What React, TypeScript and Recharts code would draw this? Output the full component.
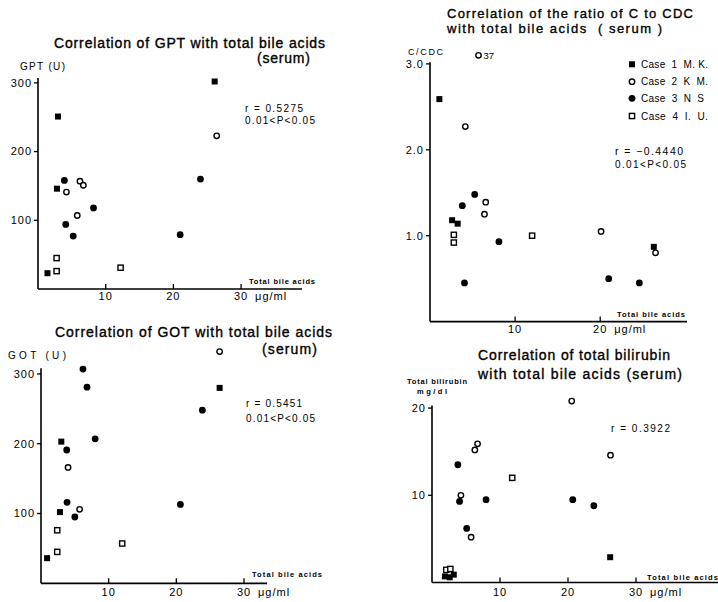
import { ScatterChart, Scatter, XAxis, YAxis, ReferenceLine } from "recharts";

// total bile acids (µg/ml) on x, enzyme / ratio / bilirubin on y
const gptCase1 = [{ x: 1.4, y: 23 }, { x: 2.8, y: 146 }, { x: 2.95, y: 251 }, { x: 26.1, y: 302 }];
const gptCase2 = [{ x: 4.2, y: 141 }, { x: 5.8, y: 107 }, { x: 6.2, y: 157 }, { x: 6.7, y: 151 }, { x: 26.4, y: 223 }];
const gptCase3 = [{ x: 3.9, y: 158 }, { x: 4.1, y: 94 }, { x: 5.2, y: 77 }, { x: 8.2, y: 118 }, { x: 21.0, y: 79 }, { x: 24.0, y: 160 }];
const gptCase4 = [{ x: 2.75, y: 45 }, { x: 2.75, y: 26 }, { x: 12.2, y: 31 }];

const cdcCase1 = [{ x: 1.1, y: 2.59 }, { x: 2.6, y: 1.18 }, { x: 3.25, y: 1.14 }, { x: 26.3, y: 0.87 }];
const cdcCase2 = [{ x: 4.15, y: 2.27 }, { x: 6.4, y: 1.25 }, { x: 6.55, y: 1.39 }, { x: 20.1, y: 1.05 }, { x: 26.5, y: 0.8 }];
const cdcCase2Off = [{ x: 5.7, y: 3.7 }]; // off scale, drawn at the top with its value
const cdcCase3 = [{ x: 3.8, y: 1.35 }, { x: 4.05, y: 0.45 }, { x: 5.25, y: 1.48 }, { x: 8.1, y: 0.93 }, { x: 21.0, y: 0.5 }, { x: 24.6, y: 0.45 }];
const cdcCase4 = [{ x: 2.8, y: 1.01 }, { x: 2.8, y: 0.92 }, { x: 12.0, y: 1.0 }];

const gotCase1 = [{ x: 0.9, y: 36 }, { x: 2.8, y: 102 }, { x: 3.0, y: 203 }, { x: 26.4, y: 280 }];
const gotCase2 = [{ x: 4.0, y: 166 }, { x: 5.7, y: 106 }, { x: 26.4, y: 332 }];
const gotCase3 = [{ x: 3.8, y: 191 }, { x: 3.85, y: 116 }, { x: 5.0, y: 95 }, { x: 6.2, y: 307 }, { x: 6.8, y: 281 }, { x: 8.0, y: 207 }, { x: 20.6, y: 113 }, { x: 23.85, y: 248 }];
const gotCase4 = [{ x: 2.4, y: 76 }, { x: 2.4, y: 45 }, { x: 12.0, y: 57 }];

const bilCase1 = [{ x: 1.9, y: 0.7 }, { x: 2.6, y: 0.6 }, { x: 3.2, y: 0.9 }, { x: 26.2, y: 2.9 }];
const bilCase2 = [{ x: 4.25, y: 10.0 }, { x: 5.75, y: 5.2 }, { x: 6.3, y: 15.2 }, { x: 6.7, y: 15.9 }, { x: 20.55, y: 20.8 }, { x: 26.25, y: 14.6 }];
const bilCase3 = [{ x: 3.8, y: 13.5 }, { x: 4.05, y: 9.3 }, { x: 5.1, y: 6.2 }, { x: 7.95, y: 9.5 }, { x: 20.7, y: 9.5 }, { x: 23.8, y: 8.8 }];
const bilCase4 = [{ x: 2.1, y: 1.45 }, { x: 2.7, y: 1.55 }, { x: 11.8, y: 12.0 }];

const cases = ["Case  1  M. K.", "Case  2  K  M.", "Case  3  N  S", "Case  4  I.  U."];

const CDC_CAP = 3.1;
const FONT = "'Liberation Sans', Arial, sans-serif";

const FilledSquare = (p: any) => <rect x={p.cx - 3} y={p.cy - 3} width={6} height={6} fill="#000" />;
const FilledCircle = (p: any) => <circle cx={p.cx} cy={p.cy} r={3.4} fill="#000" />;
const OpenCircle = (p: any) => (
  <g>
    <circle cx={p.cx} cy={p.cy} r={2.7} fill="#fff" stroke="#000" strokeWidth={1.4} />
    {p.payload?.label && (
      <text x={p.cx + 5} y={p.cy + 3.5} fontSize={9.5} fontFamily={FONT} fill="#000">
        {p.payload.label}
      </text>
    )}
  </g>
);
const OpenSquare = (p: any) => (
  <rect x={p.cx - 2.6} y={p.cy - 2.6} width={5.2} height={5.2} fill="#fff" stroke="#000" strokeWidth={1.4} />
);

function makeXTick(unitAt: number, drop: number) {
  return (props: any) => {
    const { x, y, payload } = props;
    return (
      <g>
        <line x1={x} y1={y} x2={x} y2={y - 5} stroke="#000" strokeWidth={1.3} />
        <text x={x} y={y + drop} textAnchor="middle" fontSize={11} fontFamily={FONT} fill="#000" letterSpacing={1}>
          {payload.value}
        </text>
        {payload.value === unitAt && (
          <text x={x + 14} y={y + drop} fontSize={11} fontFamily={FONT} fill="#000" letterSpacing={1}>
            μg/ml
          </text>
        )}
      </g>
    );
  };
}

const MT = 10, MR = 60, XH = 22, YW = 36;

function Panel({ plot, xMax, yMax, yAxisTop, yTicks, xTicks, unitAt, drop, yFmt, series }: any) {
  const w = YW + plot.width + MR;
  const h = MT + plot.height + XH;
  return (
    <div style={{ position: "absolute", left: plot.left - YW, top: plot.top - MT, width: w, height: h }}>
      <ScatterChart width={w} height={h} margin={{ top: MT, right: MR, bottom: 0, left: 0 }}>
        <XAxis
          type="number"
          dataKey="x"
          domain={[0, xMax]}
          ticks={xTicks}
          height={XH}
          tickSize={0}
          tickMargin={0}
          tickLine={false}
          axisLine={{ stroke: "#000", strokeWidth: 1.7 }}
          tick={makeXTick(unitAt, drop)}
          interval={0}
        />
        <YAxis
          type="number"
          dataKey="y"
          domain={[0, yMax]}
          ticks={yTicks}
          width={YW}
          axisLine={false}
          tickLine={{ stroke: "#000", strokeWidth: 1.3 }}
          tickSize={4}
          tickMargin={2}
          tickFormatter={yFmt}
          tick={{ fill: "#000", fontSize: 11, fontFamily: FONT, letterSpacing: 1 }}
          interval={0}
        />
        <ReferenceLine
          segment={[{ x: 0, y: 0 }, { x: 0, y: yAxisTop }]}
          stroke="#000"
          strokeWidth={1.6}
        />
        {series.map((s: any, i: number) => (
          <Scatter key={i} data={s.data} shape={s.shape} isAnimationActive={false} />
        ))}
      </ScatterChart>
    </div>
  );
}

const T = ({ x, y, len, fs = 10, bold = false, children }: any) => (
  <text
    x={x}
    y={y}
    fontSize={fs}
    fontFamily={FONT}
    fontWeight={bold ? "bold" : "normal"}
    fill="#000"
    stroke={fs >= 13 ? "#000" : "none"}
    strokeWidth={fs >= 13 ? 0.35 : 0}
    textLength={len}
    lengthAdjust="spacing"
    style={{ whiteSpace: "pre" }}
  >
    {children}
  </text>
);

export default function App() {
  const cdcOffShown = cdcCase2Off.map((p) => ({
    x: p.x,
    y: Math.min(p.y, CDC_CAP),
    label: String(p.y).replace(".", ""),
  }));
  const legendShapes = [FilledSquare, OpenCircle, FilledCircle, OpenSquare];
  const legendRows = [64.3, 81.7, 98.3, 116];

  return (
    <div style={{ position: "absolute", left: 0, top: 0, width: 718, height: 602, overflow: "hidden", background: "#fff" }}>
      <Panel
        plot={{ left: 38, top: 76, width: 264, height: 213 }}
        xMax={39}
        yMax={310}
        yAxisTop={307}
        yTicks={[100, 200, 300]}
        xTicks={[10, 20, 30]}
        unitAt={30}
        drop={11}
        series={[
          { data: gptCase4, shape: OpenSquare },
          { data: gptCase2, shape: OpenCircle },
          { data: gptCase3, shape: FilledCircle },
          { data: gptCase1, shape: FilledSquare },
        ]}
      />
      <Panel
        plot={{ left: 430, top: 51.4, width: 257, height: 270.6 }}
        xMax={30.2}
        yMax={3.15}
        yAxisTop={3.02}
        yTicks={[1, 2, 3]}
        yFmt={(v: number) => v.toFixed(1)}
        xTicks={[10, 20]}
        unitAt={20}
        drop={11.6}
        series={[
          { data: cdcCase4, shape: OpenSquare },
          { data: cdcCase2, shape: OpenCircle },
          { data: cdcOffShown, shape: OpenCircle },
          { data: cdcCase3, shape: FilledCircle },
          { data: cdcCase1, shape: FilledSquare },
        ]}
      />
      <Panel
        plot={{ left: 40.5, top: 346.2, width: 226, height: 237.3 }}
        xMax={33.4}
        yMax={340}
        yAxisTop={308}
        yTicks={[100, 200, 300]}
        xTicks={[10, 20, 30]}
        unitAt={30}
        drop={12.5}
        series={[
          { data: gotCase4, shape: OpenSquare },
          { data: gotCase2, shape: OpenCircle },
          { data: gotCase3, shape: FilledCircle },
          { data: gotCase1, shape: FilledSquare },
        ]}
      />
      <Panel
        plot={{ left: 431.5, top: 394.8, width: 289, height: 187.5 }}
        xMax={42.5}
        yMax={21.5}
        yAxisTop={20.3}
        yTicks={[10, 20]}
        xTicks={[10, 20, 30]}
        unitAt={30}
        drop={13.4}
        series={[
          { data: bilCase4, shape: OpenSquare },
          { data: bilCase2, shape: OpenCircle },
          { data: bilCase3, shape: FilledCircle },
          { data: bilCase1, shape: FilledSquare },
        ]}
      />

      <svg width={718} height={602} style={{ position: "absolute", left: 0, top: 0, pointerEvents: "none" }}>
        {/* GPT */}
        <T x={54} y={48} len={271} fs={14}>Correlation of GPT with total bile acids</T>
        <T x={257} y={62.5} len={53} fs={14}>(serum)</T>
        <T x={20} y={70} len={45}>GPT (U)</T>
        <T x={245} y={111.5} len={58}>r = 0.5275</T>
        <T x={245} y={124} len={70}>0.01&lt;P&lt;0.05</T>
        <T x={249} y={283.5} len={66} fs={7.5} bold>Total bile acids</T>

        {/* C/CDC */}
        <T x={447} y={18} len={246} fs={13}>Correlation of the ratio of C to CDC</T>
        <T x={447} y={33} len={215} fs={13}>with total bile acids  ( serum )</T>
        <T x={408} y={55} len={35} fs={9}>C/CDC</T>
        {cases.map((c, i) => {
          const S = legendShapes[i];
          return (
            <g key={c}>
              <S cx={632} cy={legendRows[i]} />
              <T x={641} y={legendRows[i] + 3.6} len={i === 2 ? 63 : 67}>{c}</T>
            </g>
          );
        })}
        <T x={615} y={155} len={68} fs={10.5}>r = −0.4440</T>
        <T x={615} y={167.5} len={71}>0.01&lt;P&lt;0.05</T>
        <T x={617} y={316.5} len={68} fs={7.5} bold>Total bile acids</T>

        {/* GOT */}
        <T x={55} y={337} len={277} fs={14}>Correlation of GOT with total bile acids</T>
        <T x={262} y={354} len={55} fs={14}>(serum)</T>
        <T x={8} y={359} len={58}>GOT (U)</T>
        <T x={246} y={406.5} len={56}>r = 0.5451</T>
        <T x={246} y={421.5} len={69}>0.01&lt;P&lt;0.05</T>
        <T x={252} y={576.5} len={70} fs={7.5} bold>Total bile acids</T>

        {/* bilirubin */}
        <T x={478} y={359.5} len={192} fs={14}>Correlation of total bilirubin</T>
        <T x={478} y={378.5} len={204} fs={14}>with total bile acids (serum)</T>
        <T x={407} y={384} len={60} fs={7.5} bold>Total bilirubin</T>
        <T x={417} y={394} len={30} fs={7.5} bold>mg/dl</T>
        <T x={611} y={431.5} len={59}>r = 0.3922</T>
        <T x={647} y={580} len={71} fs={7.5} bold>Total bile acids</T>
      </svg>
    </div>
  );
}
